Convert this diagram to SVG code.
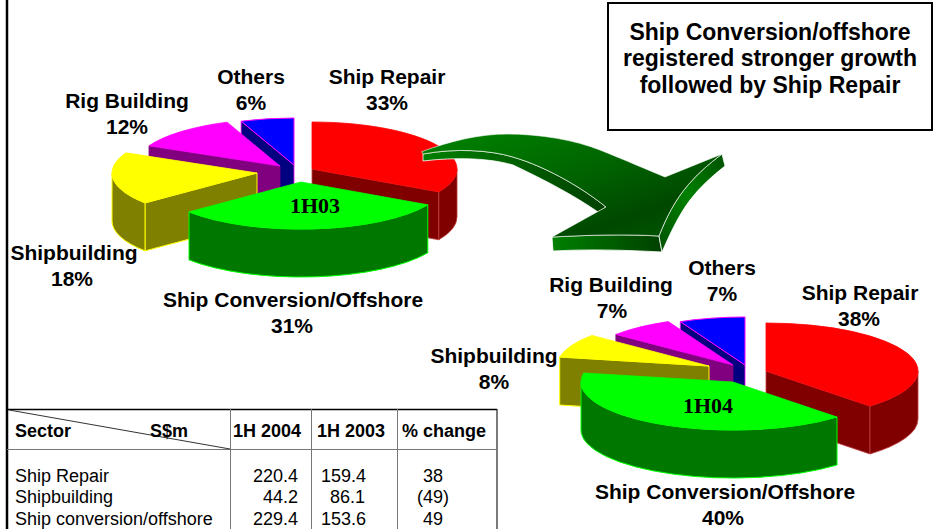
<svg xmlns="http://www.w3.org/2000/svg" width="936" height="529" viewBox="0 0 936 529">
<style>
.lbl{font-family:"Liberation Sans",Arial,sans-serif;font-weight:bold;font-size:21px;fill:#000;text-anchor:middle}
.ttl{font-family:"Liberation Sans",Arial,sans-serif;font-weight:bold;font-size:23px;fill:#000;text-anchor:middle}
.pid{font-family:"Liberation Serif","Times New Roman",serif;font-weight:bold;font-size:22px;fill:#000;text-anchor:middle}
.th{font-family:"Liberation Sans",Arial,sans-serif;font-weight:bold;font-size:18px;fill:#000}
.td{font-family:"Liberation Sans",Arial,sans-serif;font-size:18px;fill:#000}
.redT{fill:#ff0000;stroke:#ff0000;stroke-width:0.8}
.redS{fill:#800000;stroke:#c04040;stroke-width:0.8}
.grnT{fill:#00ff00;stroke:#00ff00;stroke-width:0.8}
.grnS{fill:#007800;stroke:#00ff00;stroke-width:1}
.ylwT{fill:#ffff00;stroke:#ffff00;stroke-width:0.8}
.ylwS{fill:#808000;stroke:#ffff00;stroke-width:1}
.magT{fill:#ff00ff;stroke:#ff00ff;stroke-width:0.8}
.magS{fill:#800080;stroke:#800080;stroke-width:0.8}
.bluT{fill:#0000ff;stroke:#ff00ff;stroke-width:1}
.bluS{fill:#000080;stroke:#ff00ff;stroke-width:0.8}
.grid{stroke:#777;stroke-width:1;fill:none}
</style>
<defs>
<linearGradient id="arrTop" x1="0" y1="0" x2="1" y2="1">
<stop offset="0" stop-color="#008400"/>
<stop offset="0.45" stop-color="#006400"/>
<stop offset="0.75" stop-color="#004800"/>
<stop offset="1" stop-color="#005a00"/>
</linearGradient>
<linearGradient id="arrSide" x1="0" y1="0" x2="1" y2="0">
<stop offset="0" stop-color="#008000"/>
<stop offset="1" stop-color="#004000"/>
</linearGradient>
<linearGradient id="arrRight" x1="0" y1="1" x2="1" y2="0">
<stop offset="0" stop-color="#005000"/>
<stop offset="0.5" stop-color="#008000"/>
<stop offset="1" stop-color="#005000"/>
</linearGradient>
</defs>
<rect width="936" height="529" fill="#ffffff"/>
<line x1="7" y1="0" x2="7" y2="529" stroke="#000" stroke-width="2.5"/>

<g id="title-box">
<rect x="608" y="3" width="324" height="127" fill="#fff" stroke="#000" stroke-width="2"/>
<text class="ttl" x="770" y="40">Ship Conversion/offshore</text>
<text class="ttl" x="770" y="66">registered stronger growth</text>
<text class="ttl" x="770" y="93">followed by Ship Repair</text>
</g>

<g id="pie-1h03">
<g id="p1-others">
<path class="bluS" d="M294,165 L241.1,121.2 L241.1,169.2 L294,213 Z"/>
<path class="bluT" d="M294,165 L241.1,121.2 A145,47 0 0 1 294,118 Z"/>
</g>
<g id="p1-rig">
<path class="magS" d="M280,166 L149,145.8 L149,193.8 L280,214 Z"/>
<path class="magT" d="M280,166 L149,145.8 A145,47 0 0 1 227.1,122.2 Z"/>
</g>
<g id="p1-repair">
<path class="redS" d="M312,169 L438.8,191.8 L438.8,239.8 L312,217 Z"/>
<path class="redS" d="M438.8,191.8 A145,47 0 0 0 457,169 L457,217 A145,47 0 0 1 438.8,239.8 Z"/>
<path class="redT" d="M312,169 L312,122 A145,47 0 0 1 438.8,191.8 Z"/>
</g>
<g id="p1-shipbuilding">
<path class="ylwS" d="M257,173 L145,202.9 L145,250.9 L257,221 Z"/>
<path class="ylwS" d="M145,202.9 A145,47 0 0 1 112,173 L112,221 A145,47 0 0 0 145,250.9 Z"/>
<path class="ylwT" d="M257,173 L145,202.9 A145,47 0 0 1 126,152.8 Z"/>
</g>
<g id="p1-conversion">
<path class="grnS" d="M427.8,204.8 A145,47 0 0 1 189,211.9 L189,259.9 A145,47 0 0 0 427.8,252.8 Z"/>
<path class="grnT" d="M301,182 L427.8,204.8 A145,47 0 0 1 189,211.9 Z"/>
</g>
<text class="pid" x="315" y="213">1H03</text>
<text class="lbl" x="251" y="84">Others</text>
<text class="lbl" x="251" y="110">6%</text>
<text class="lbl" x="387" y="84">Ship Repair</text>
<text class="lbl" x="387" y="110">33%</text>
<text class="lbl" x="127" y="108">Rig Building</text>
<text class="lbl" x="127" y="134">12%</text>
<text class="lbl" x="74" y="260">Shipbuilding</text>
<text class="lbl" x="72" y="286">18%</text>
<text class="lbl" x="293" y="307">Ship Conversion/Offshore</text>
<text class="lbl" x="292" y="333">31%</text>
</g>

<g id="pie-1h04">
<g id="p2-others">
<path class="bluS" d="M745,365 L680.3,321.6 L680.3,369.6 L745,413 Z"/>
<path class="bluT" d="M745,365 L680.3,321.6 A152,48 0 0 1 745,317 Z"/>
</g>
<g id="p2-rig">
<path class="magS" d="M733,365 L615.9,334.4 L615.9,382.4 L733,413 Z"/>
<path class="magT" d="M733,365 L615.9,334.4 A152,48 0 0 1 668.3,321.6 Z"/>
</g>
<g id="p2-shipbuilding">
<path class="ylwS" d="M709,366 L559.7,357 L559.7,405 L709,414 Z"/>
<path class="ylwT" d="M709,366 L559.7,357 A152,48 0 0 1 591.9,335.4 Z"/>
</g>
<g id="p2-repair">
<path class="redS" d="M766,371 L870,406 L870,454 L766,419 Z"/>
<path class="redS" d="M870,406 A152,48 0 0 0 918,371 L918,419 A152,48 0 0 1 870,454 Z"/>
<path class="redT" d="M766,371 L766,323 A152,48 0 0 1 870,406 Z"/>
</g>
<g id="p2-conversion">
<path class="grnS" d="M837,417 A152,48 0 0 1 581,382 L581,430 A152,48 0 0 0 837,465 Z"/>
<path class="grnT" d="M733,382 L837,417 A152,48 0 0 1 583.7,373 Z"/>
</g>
<text class="pid" x="708" y="413">1H04</text>
<text class="lbl" x="722" y="275">Others</text>
<text class="lbl" x="722" y="301">7%</text>
<text class="lbl" x="611" y="292">Rig Building</text>
<text class="lbl" x="612" y="318">7%</text>
<text class="lbl" x="860" y="300">Ship Repair</text>
<text class="lbl" x="859" y="326">38%</text>
<text class="lbl" x="494" y="363">Shipbuilding</text>
<text class="lbl" x="494" y="389">8%</text>
<text class="lbl" x="725" y="499">Ship Conversion/Offshore</text>
<text class="lbl" x="723" y="525">40%</text>
</g>

<g id="connectors">
<g id="growth-arrow">
<path d="M423,154 C455,148 490,150 513,157 C550,168 585,190 606,207 L598,212 C575,196 545,180 513,165 C490,158 455,157 423,161 Z" fill="url(#arrSide)" stroke="#ffffff" stroke-width="0.8"/>
<path d="M552,237 C590,235 625,234 659,236 L662,252 C625,250 590,249 553,251 Z" fill="url(#arrSide)" stroke="#ffffff" stroke-width="0.8"/>
<path d="M659,236 C666,218 675,200 688,185 C698,173 710,163 722,154 L725,166 C712,176 700,187 690,200 C678,216 670,234 662,252 Z" fill="url(#arrRight)" stroke="#ffffff" stroke-width="0.8"/>
<path d="M421.7,151.7 C450,141 480,134 507,134 C540,134 575,140 600,150 C625,160 648,170 665,177 L722,154 C710,163 698,173 688,185 C675,200 666,218 659,236 C625,234 590,235 552,237 L606,207 C585,190 550,168 513,157 C490,150 455,148 423,154 Z" fill="url(#arrTop)" stroke="#ffffff" stroke-width="0.6"/>
</g>
</g>

<g id="table">
<line x1="7" y1="409.5" x2="497" y2="409.5" stroke="#000" stroke-width="1.5"/>
<line x1="497" y1="409" x2="497" y2="529" stroke="#222" stroke-width="1.2"/>
<line class="grid" x1="7" y1="449.5" x2="497" y2="449.5"/>
<line class="grid" x1="230.5" y1="409" x2="230.5" y2="529"/>
<line class="grid" x1="311.5" y1="409" x2="311.5" y2="529"/>
<line class="grid" x1="397.5" y1="409" x2="397.5" y2="529"/>
<line x1="9" y1="410" x2="230" y2="449" stroke="#333" stroke-width="1"/>
<text class="th" x="15" y="437">Sector</text>
<text class="th" x="150" y="437">S$m</text>
<text class="th" x="233" y="437">1H 2004</text>
<text class="th" x="317" y="437">1H 2003</text>
<text class="th" x="402" y="437">% change</text>
<text class="td" x="15" y="482">Ship Repair</text>
<text class="td" x="15" y="503">Shipbuilding</text>
<text class="td" x="15" y="525">Ship conversion/offshore</text>
<text class="td" x="298" y="482" text-anchor="end">220.4</text>
<text class="td" x="298" y="503" text-anchor="end">44.2</text>
<text class="td" x="298" y="525" text-anchor="end">229.4</text>
<text class="td" x="321" y="482">159.4</text>
<text class="td" x="330" y="503">86.1</text>
<text class="td" x="321" y="525">153.6</text>
<text class="td" x="433" y="482" text-anchor="middle">38</text>
<text class="td" x="433" y="503" text-anchor="middle">(49)</text>
<text class="td" x="433" y="525" text-anchor="middle">49</text>
</g>
</svg>
